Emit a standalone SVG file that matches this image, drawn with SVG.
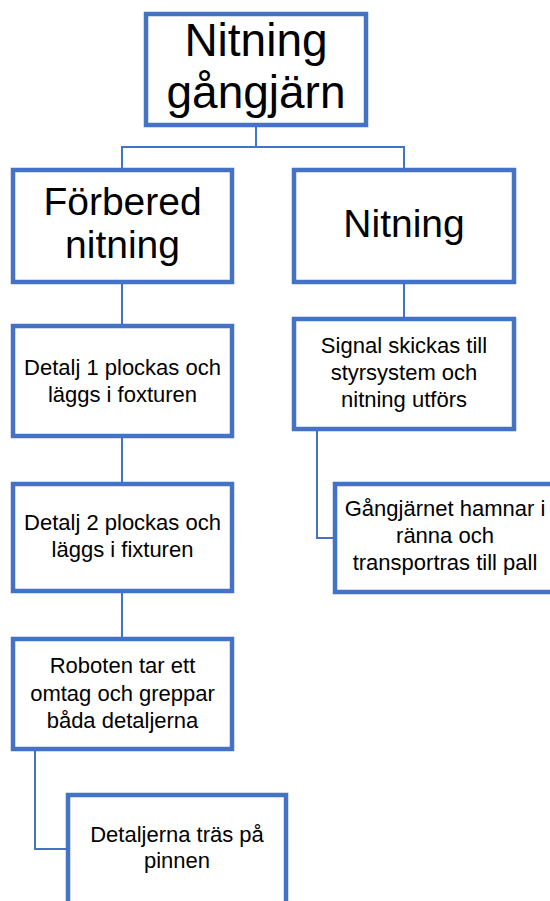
<svg xmlns="http://www.w3.org/2000/svg" width="550" height="901" viewBox="0 0 550 901">
<style>
.box{fill:#ffffff;stroke:#4472C4;stroke-width:4.5}
.con{fill:none;stroke:#4472C4;stroke-width:2}
text{font-family:"Liberation Sans",Arial,sans-serif;fill:#000000;text-anchor:middle}
.t1{font-size:46px}
.t2{font-size:39px}
.t3{font-size:22px}
</style>
<rect width="550" height="901" fill="#ffffff"/>
<g id="connectors">
<path class="con" d="M256,127 V147 M122,170 V147 H404 V170"/>
<path class="con" d="M122,282 V326"/>
<path class="con" d="M122,436 V484"/>
<path class="con" d="M122,591 V639"/>
<path class="con" d="M35,749 V849 H68"/>
<path class="con" d="M404,282 V319"/>
<path class="con" d="M317,429 V538 H335"/>
</g>
<g id="root">
<rect class="box" x="146" y="14" width="220" height="111"/>
<text class="t1" x="256" y="56">Nitning</text>
<text class="t1" x="256" y="108">gångjärn</text>
</g>
<g id="forbered">
<rect class="box" x="13" y="170" width="219" height="112"/>
<text class="t2" x="122.5" y="215">Förbered</text>
<text class="t2" x="122.5" y="258">nitning</text>
</g>
<g id="nitning">
<rect class="box" x="294" y="170" width="220" height="112"/>
<text class="t2" x="404" y="237">Nitning</text>
</g>
<g id="detalj1">
<rect class="box" x="13" y="326" width="219" height="110"/>
<text class="t3" x="122.5" y="375">Detalj 1 plockas och</text>
<text class="t3" x="122.5" y="402">läggs i foxturen</text>
</g>
<g id="detalj2">
<rect class="box" x="13" y="484" width="219" height="107"/>
<text class="t3" x="122.5" y="530">Detalj 2 plockas och</text>
<text class="t3" x="122.5" y="557">läggs i fixturen</text>
</g>
<g id="roboten">
<rect class="box" x="13" y="639" width="219" height="110"/>
<text class="t3" x="122.5" y="673">Roboten tar ett</text>
<text class="t3" x="122.5" y="700.5">omtag och greppar</text>
<text class="t3" x="122.5" y="728">båda detaljerna</text>
</g>
<g id="detaljerna">
<rect class="box" x="68" y="795" width="218" height="112"/>
<text class="t3" x="177" y="842">Detaljerna träs på</text>
<text class="t3" x="177" y="868">pinnen</text>
</g>
<g id="signal">
<rect class="box" x="294" y="319" width="220" height="110"/>
<text class="t3" x="404" y="353">Signal skickas till</text>
<text class="t3" x="404" y="380">styrsystem och</text>
<text class="t3" x="404" y="407">nitning utförs</text>
</g>
<g id="gangjarnet">
<rect class="box" x="335" y="484" width="220" height="108"/>
<text class="t3" x="445" y="516">Gångjärnet hamnar i</text>
<text class="t3" x="445" y="543">ränna och</text>
<text class="t3" x="445" y="570">transportras till pall</text>
</g>
</svg>
